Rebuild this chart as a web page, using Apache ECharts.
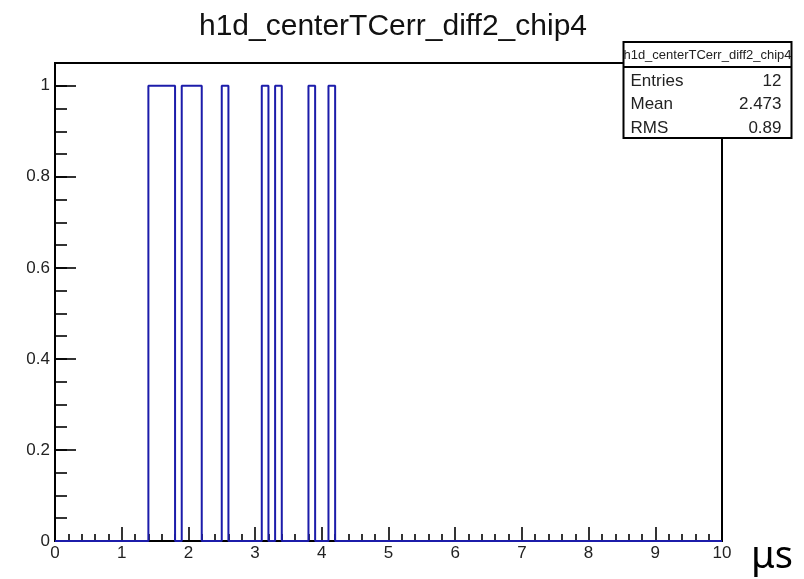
<!DOCTYPE html>
<html>
<head>
<meta charset="utf-8">
<script src="https://cdn.jsdelivr.net/npm/echarts@6/dist/echarts.min.js"></script>
<style>
  html, body { margin: 0; padding: 0; background: #fff; }
  #chart { width: 804px; height: 579px; }
</style>
</head>
<body>
<div id="chart"></div>
<script>
// Histogram h1d_centerTCerr_diff2_chip4: 100 bins on [0, 10], only the filled bins listed
const histTitle = 'h1d_centerTCerr_diff2_chip4';
const binWidth = 0.1;
const binLowEdges = [1.4, 1.5, 1.6, 1.7, 1.9, 2.0, 2.1, 2.5, 3.1, 3.3, 3.8, 4.1];
const binCounts   = [1, 1, 1, 1, 1, 1, 1, 1, 1, 1, 1, 1];
const xRange = [0, 10];
const yRange = [0, 1.05];

// Statistics box
const statNames  = ['Entries', 'Mean', 'RMS'];
const statValues = ['12', '2.473', '0.89'];

// Build the outline of the histogram (ROOT "HIST" style: no inner edges between adjacent bins)
function outlinePoints() {
  const pts = [[xRange[0], 0]];
  const eps = 1e-9;
  for (let i = 0; i < binLowEdges.length; i++) {
    const lo = binLowEdges[i];
    const hi = +(lo + binWidth).toFixed(6);
    const prevHi = i > 0 ? +(binLowEdges[i - 1] + binWidth).toFixed(6) : null;
    const contiguousPrev = prevHi !== null && Math.abs(prevHi - lo) < eps;
    if (!contiguousPrev || binCounts[i] !== binCounts[i - 1]) pts.push([lo, binCounts[i]]);
    const nextLo = i < binLowEdges.length - 1 ? binLowEdges[i + 1] : null;
    const contiguousNext = nextLo !== null && Math.abs(nextLo - hi) < eps;
    if (!contiguousNext) pts.push([hi, 0]);
  }
  pts.push([xRange[1], 0]);
  return pts;
}

const labelFont = 'Liberation Sans, Arial, Helvetica, sans-serif';
const chart = echarts.init(document.getElementById('chart'), null, { renderer: 'canvas' });

chart.setOption({
  animation: false,
  backgroundColor: '#fff',
  title: {
    text: histTitle,
    left: 388,
    textAlign: 'center',
    top: 7,
    textStyle: { fontFamily: labelFont, fontSize: 30, fontWeight: 'normal', color: '#111' }
  },
  grid: {
    left: 55, right: 82, top: 63, bottom: 38,
    show: true, borderColor: '#000', borderWidth: 2, backgroundColor: 'transparent'
  },
  xAxis: {
    type: 'value',
    min: xRange[0], max: xRange[1], interval: 1,
    axisLine: { show: true, onZero: false, lineStyle: { color: '#000', width: 2 } },
    axisTick: { show: true, inside: true, length: 14, lineStyle: { color: '#000', width: 1.6 } },
    minorTick: { show: true, splitNumber: 5, length: 7, lineStyle: { color: '#000', width: 1.6 } },
    splitLine: { show: false },
    axisLabel: { fontFamily: labelFont, fontSize: 17, color: '#222', margin: 4 },
    name: 'μs',
    nameLocation: 'end',
    nameGap: 29,
    nameTextStyle: { fontFamily: 'Noto Sans', fontSize: 38, color: '#000', verticalAlign: 'top', padding: [-3, 0, 0, 0] }
  },
  yAxis: [
    {
      type: 'value',
      min: yRange[0], max: yRange[1], interval: 0.2,
      axisLine: { show: true, onZero: false, lineStyle: { color: '#000', width: 2 } },
      axisTick: { show: true, inside: true, length: 21, lineStyle: { color: '#000', width: 1.6 } },
      splitLine: { show: false },
      axisLabel: { fontFamily: labelFont, fontSize: 17, color: '#222', margin: 5, showMaxLabel: false }
    },
    {
      // minor ticks every 0.05
      type: 'value',
      position: 'left',
      min: yRange[0], max: yRange[1], interval: 0.05,
      axisLine: { show: false },
      axisTick: { show: true, inside: true, length: 12, lineStyle: { color: '#000', width: 1.6 } },
      splitLine: { show: false },
      axisLabel: { show: false }
    }
  ],
  series: [{
    type: 'line',
    xAxisIndex: 0,
    yAxisIndex: 0,
    step: 'end',
    symbol: 'none',
    data: outlinePoints(),
    lineStyle: { color: '#1c1caa', width: 2 },
    z: 3
  }],
  graphic: [{
    type: 'group',
    left: 621,
    top: 41,
    z: 100,
    children: [
      { type: 'rect', shape: { x: 0, y: 0, width: 168, height: 96 },
        style: { fill: '#fff', stroke: '#000', lineWidth: 2 } },
      { type: 'line', shape: { x1: 0, y1: 25, x2: 168, y2: 25 },
        style: { stroke: '#000', lineWidth: 2 } },
      { type: 'text', x: 84, y: 13,
        style: { text: histTitle, font: '13px ' + labelFont, fill: '#222', align: 'center', verticalAlign: 'middle' } },
      ...statNames.map((n, i) => ({
        type: 'text', x: 7, y: 39 + i * 23.5,
        style: { text: n, font: '17px ' + labelFont, fill: '#222', align: 'left', verticalAlign: 'middle' }
      })),
      ...statValues.map((v, i) => ({
        type: 'text', x: 158, y: 39 + i * 23.5,
        style: { text: v, font: '17px ' + labelFont, fill: '#222', align: 'right', verticalAlign: 'middle' }
      }))
    ]
  }]
});
</script>
</body>
</html>
